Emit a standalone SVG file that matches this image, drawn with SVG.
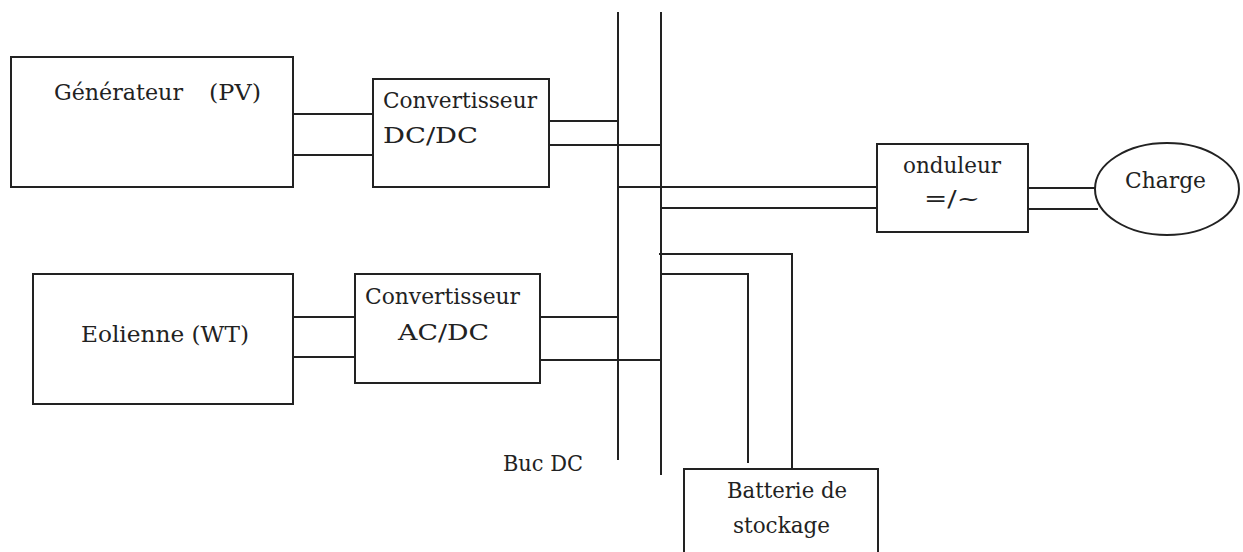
<svg xmlns="http://www.w3.org/2000/svg" width="1243" height="552" viewBox="0 0 1243 552">
<style>
.box{fill:#fff;stroke:#222;stroke-width:2}
.w{fill:none;stroke:#222;stroke-width:2}
text{font-family:'DejaVu Serif','Liberation Serif',serif;font-size:22px;fill:#222}
</style>
<rect width="1243" height="552" fill="#fff"/>
<g id="connectors">
<path class="w" d="M618 12V460M661 12V475"/>
<path class="w" d="M293 114H373M293 155H373"/>
<path class="w" d="M549 121H618M549 145H661"/>
<path class="w" d="M293 317H355M293 357H355"/>
<path class="w" d="M540 317H618M540 360H661"/>
<path class="w" d="M618 187H877M661 208H877"/>
<path class="w" d="M1028 188H1098M1028 209H1098"/>
<path class="w" d="M659 254H792V469M661 274H748V463"/>
</g>
<g id="pv"><rect class="box" x="11" y="57" width="282" height="130"/>
<text x="54" y="100" textLength="129" lengthAdjust="spacingAndGlyphs">Générateur</text>
<text x="209" y="100" textLength="52" lengthAdjust="spacingAndGlyphs">(PV)</text></g>
<g id="dcdc"><rect class="box" x="373" y="79" width="176" height="108"/>
<text x="383" y="108" textLength="154" lengthAdjust="spacingAndGlyphs">Convertisseur</text>
<text x="383" y="143" textLength="95" lengthAdjust="spacingAndGlyphs">DC/DC</text></g>
<g id="eolienne"><rect class="box" x="33" y="274" width="260" height="130"/>
<text x="81" y="342" textLength="168" lengthAdjust="spacingAndGlyphs">Eolienne (WT)</text></g>
<g id="acdc"><rect class="box" x="355" y="274" width="185" height="109"/>
<text x="365" y="304" textLength="155" lengthAdjust="spacingAndGlyphs">Convertisseur</text>
<text x="398" y="340" textLength="91" lengthAdjust="spacingAndGlyphs">AC/DC</text></g>
<g id="onduleur"><rect class="box" x="877" y="144" width="151" height="88"/>
<text x="903" y="173" textLength="98" lengthAdjust="spacingAndGlyphs">onduleur</text>
<text x="924" y="206" textLength="56" lengthAdjust="spacingAndGlyphs">=/~</text></g>
<g id="charge"><ellipse class="box" cx="1167" cy="189" rx="72" ry="46"/>
<text x="1125" y="188" textLength="81" lengthAdjust="spacingAndGlyphs">Charge</text></g>
<g id="batterie"><rect class="box" x="684" y="469" width="194" height="90"/>
<text x="727" y="498" textLength="120" lengthAdjust="spacingAndGlyphs">Batterie de</text>
<text x="733" y="533" textLength="97" lengthAdjust="spacingAndGlyphs">stockage</text></g>
<g id="bus-label"><text x="503" y="471" textLength="80" lengthAdjust="spacingAndGlyphs">Buc DC</text></g>
</svg>
